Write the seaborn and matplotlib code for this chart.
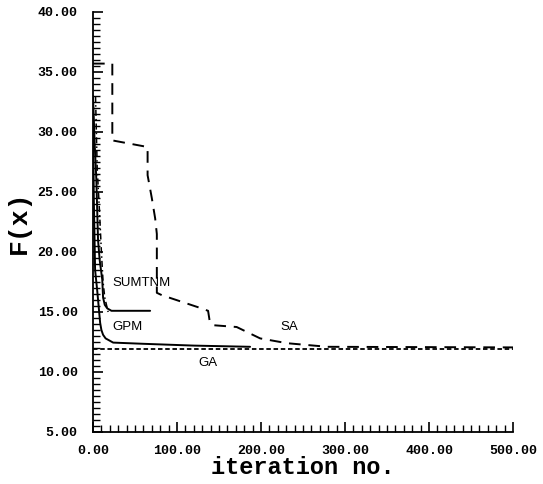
import matplotlib
matplotlib.use("Agg")
import matplotlib.pyplot as plt
import seaborn as sns
import pandas as pd
from matplotlib.ticker import MultipleLocator, FormatStrFormatter

# ---- data ----
SA_x = [0, 23, 23, 65, 65, 70, 74, 76, 76, 82, 125, 137, 139, 143, 171, 199, 231, 279, 500]
SA_y = [35.7, 35.7, 29.3, 28.75, 26.4, 24.5, 22.8, 21.5, 16.6, 16.4, 15.4, 15.1, 14.2, 13.9, 13.75, 12.8, 12.4, 12.1, 12.05]

SUMTNM_x = [0, 2, 4, 6, 8, 11, 12, 14, 17, 22, 68]
SUMTNM_y = [33.0, 29.0, 26.0, 21.0, 19.3, 17.7, 16.2, 15.6, 15.3, 15.1, 15.1]

GPM_x = [0, 1, 2.5, 5, 8.5, 10, 12, 15, 24, 60, 120, 187]
GPM_y = [32.0, 24.3, 18.5, 16.8, 14.1, 13.5, 13.1, 12.8, 12.45, 12.35, 12.2, 12.1]

TRACE_x = [3, 5, 8, 10, 12, 14, 18]
TRACE_y = [33.0, 27.0, 23.0, 20.0, 17.5, 16.2, 15.0]

GA_x = [0, 500]
GA_y = [11.95, 11.95]

labels = ["SUMTNM", "GPM", "SA", "GA"]
label_x = [22.6, 22.6, 223, 125]
label_y = [17.4, 13.75, 13.75, 10.75]

sns.set_theme(style="ticks")
plt.rcParams["font.family"] = ["Liberation Sans", "DejaVu Sans"]
plt.rcParams["text.color"] = "black"
plt.rcParams["axes.labelcolor"] = "black"
plt.rcParams["xtick.color"] = "black"
plt.rcParams["ytick.color"] = "black"

fig = plt.figure(figsize=(5.43, 4.84), dpi=100)
ax = fig.add_axes([93/543, 1-432/484, 420/543, 420/484])

def draw(x, y, **kw):
    df = pd.DataFrame({"x": x, "y": y})
    sns.lineplot(data=df, x="x", y="y", ax=ax, sort=False, estimator=None,
                 color="black", **kw)

draw(SA_x, SA_y, linewidth=1.4, linestyle=(0, (6, 4)))
draw(SUMTNM_x, SUMTNM_y, linewidth=1.4)
draw(GPM_x, GPM_y, linewidth=1.4)
draw(TRACE_x, TRACE_y, linewidth=1.1, linestyle=(0, (4, 2, 1, 2)))
draw(GA_x, GA_y, linewidth=1.3, linestyle=(0, (2.5, 1.5)))

for t, x, y in zip(labels, label_x, label_y):
    ax.text(x, y, t, fontsize=9.5, ha="left", va="center", color="black",
            family=["Liberation Sans", "DejaVu Sans"])

ax.set_xlim(0, 500)
ax.set_ylim(5, 40)
ax.xaxis.set_major_locator(MultipleLocator(100))
ax.xaxis.set_minor_locator(MultipleLocator(10))
ax.yaxis.set_major_locator(MultipleLocator(5))
ax.yaxis.set_minor_locator(MultipleLocator(0.5))
ax.xaxis.set_major_formatter(FormatStrFormatter("%.2f"))
ax.yaxis.set_major_formatter(FormatStrFormatter("%.2f"))

ax.tick_params(which="major", direction="in", length=7, width=1.2, colors="black")
ax.tick_params(which="minor", direction="in", length=5, width=1.0, colors="black")
ax.tick_params(axis="y", which="major", pad=11)
ax.tick_params(axis="x", which="major", pad=9)
for lab in ax.get_xticklabels() + ax.get_yticklabels():
    lab.set_family(["Liberation Mono", "DejaVu Sans Mono"])
    lab.set_fontweight("bold")
    lab.set_fontsize(9.5)
    lab.set_color("black")

sns.despine(ax=ax)
for s in ["left", "bottom"]:
    ax.spines[s].set_color("black")
    ax.spines[s].set_linewidth(1.3)

ax.set_xlabel("iteration no.", family=["Liberation Mono", "DejaVu Sans Mono"],
              fontweight="bold", fontsize=17, labelpad=0, color="black")
ax.set_ylabel("F(x)", family=["Liberation Mono", "DejaVu Sans Mono"],
              fontweight="bold", fontsize=19, labelpad=5, color="black")

fig.savefig("out.png", dpi=100, facecolor="white")
